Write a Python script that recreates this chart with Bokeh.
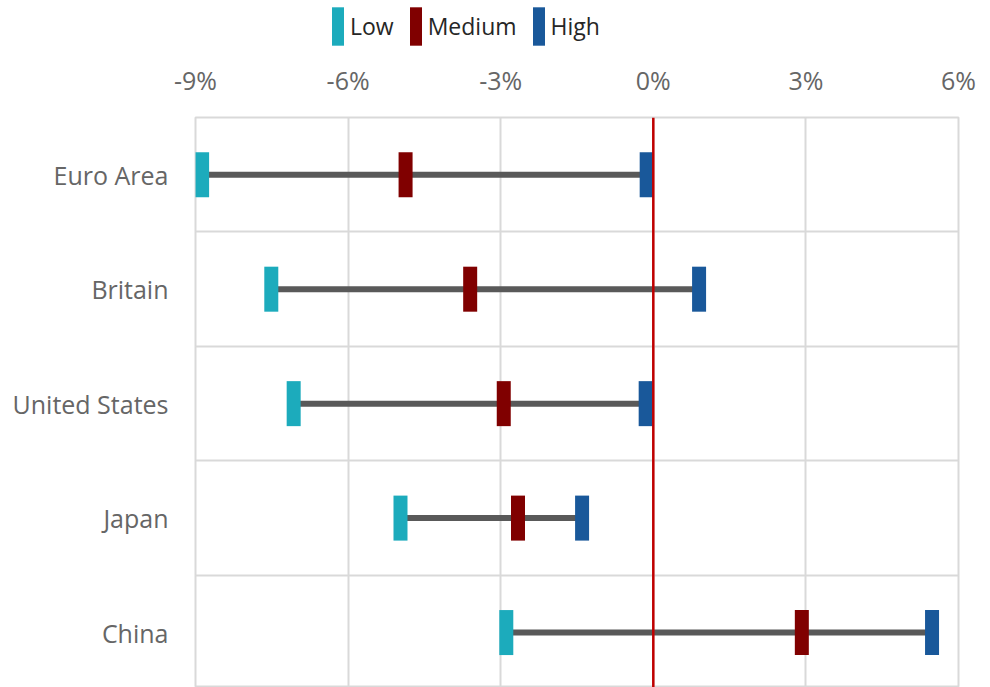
from bokeh.plotting import figure
from bokeh.layouts import column
from bokeh.models import Range1d, FixedTicker, Span, Legend, LegendItem, PrintfTickFormatter, ColumnDataSource
from bokeh.embed import file_html
from bokeh.resources import INLINE

categories = ["Euro Area", "Britain", "United States", "Japan", "China"]
low = [-8.87, -7.51, -7.07, -4.97, -2.89]
medium = [-4.87, -3.60, -2.94, -2.66, 2.92]
high = [-0.13, 0.90, -0.15, -1.40, 5.48]
x_ticks = [-9, -6, -3, 0, 3, 6]
series_names = ["Low", "Medium", "High"]
series_colors = ["#1cabbc", "#800000", "#19589a"]

ypos = [i + 0.5 for i in range(len(categories))]
src = ColumnDataSource(dict(y=ypos, low=low, medium=medium, high=high))

FONT = "Open Sans"
LABEL_COLOR = "#666666"
GRID = "#d9d9d9"

# ---------- legend strip (its glyphs lie outside its own range; only the legend shows) ----------
lg = figure(width=990, height=50, x_range=Range1d(100, 101), y_range=Range1d(100, 101),
            x_axis_type=None, y_axis_type=None, output_backend="svg", toolbar_location=None,
            min_border=0, outline_line_color=None)
lg.grid.visible = False
lrs = []
for col, color in zip(["low", "medium", "high"], series_colors):
    lrs.append(lg.rect(x=col, y="y", width=14, height=45, width_units="screen", height_units="screen",
                       source=src, fill_color=color, line_color=None))
legend = Legend(items=[LegendItem(label=n, renderers=[r]) for n, r in zip(series_names, lrs)],
                orientation="horizontal", location=(135, 0),
                glyph_width=15, glyph_height=48, label_standoff=5, spacing=14,
                padding=0, margin=0, border_line_color=None, background_fill_alpha=0,
                label_text_font=FONT, label_text_font_size="23px", label_text_color="#262626")
lg.add_layout(legend, "center")

# ---------- main chart ----------
p = figure(width=990, height=637, x_range=Range1d(-9, 6), y_range=Range1d(4.98, 0),
           x_axis_location="above", output_backend="svg", toolbar_location=None,
           min_border_left=195, min_border_right=32, min_border_top=67, min_border_bottom=0)

p.outline_line_color = GRID
p.outline_line_width = 2

p.xaxis.ticker = FixedTicker(ticks=x_ticks)
p.xaxis.formatter = PrintfTickFormatter(format="%d%%")
p.yaxis.ticker = FixedTicker(ticks=ypos)
p.yaxis.major_label_overrides = {y: c for y, c in zip(ypos, categories)}
for ax in (p.xaxis[0], p.yaxis[0]):
    ax.axis_line_color = None
    ax.major_tick_line_color = None
    ax.minor_tick_line_color = None
    ax.major_tick_out = 0
    ax.major_tick_in = 0
    ax.minor_tick_out = 0
    ax.major_label_text_font = FONT
    ax.major_label_text_color = LABEL_COLOR
    ax.major_label_text_font_size = "25px"
p.xaxis.major_label_standoff = 21
p.yaxis.major_label_standoff = 27

p.xgrid.grid_line_color = GRID
p.xgrid.grid_line_width = 2
p.ygrid.ticker = FixedTicker(ticks=list(range(len(categories) + 1)))
p.ygrid.grid_line_color = GRID
p.ygrid.grid_line_width = 2

p.segment(x0="low", x1="high", y0="y", y1="y", source=src, line_color="#595959", line_width=6)

p.add_layout(Span(location=0, dimension="height", line_color="#c00000", line_width=2.5))

for col, color in zip(["low", "medium", "high"], series_colors):
    p.rect(x=col, y="y", width=14, height=45, width_units="screen", height_units="screen",
           source=src, fill_color=color, line_color=None)

layout = column(lg, p, spacing=0)
open("out.html", "w").write(file_html(layout, INLINE))
